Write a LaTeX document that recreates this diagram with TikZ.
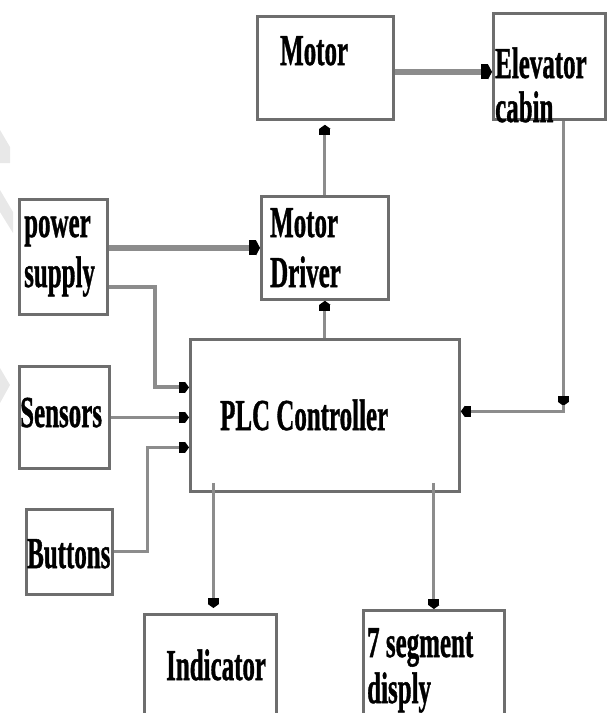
\documentclass[tikz,border=0pt]{standalone}
\usepackage{fontspec}
\setmainfont{Liberation Serif}[BoldFeatures={FakeBold=1.2}]
\usetikzlibrary{arrows.meta,calc}
\definecolor{boxgray}{RGB}{110,110,110}
\definecolor{lgray}{RGB}{140,140,140}
\definecolor{wm}{RGB}{232,232,232}
\newcommand{\tallt}[1]{\scalebox{0.96}[1.7]{#1}}
\begin{document}
\begin{tikzpicture}[x=1pt,y=-1pt,
  box/.style 2 args={draw=boxgray,line width=2.8pt,fill=white,anchor=north west,
    minimum width=#1pt,minimum height=#2pt,inner sep=0pt},
  lbl/.style={anchor=base west,inner sep=0pt,font=\fontsize{26}{26}\selectfont\bfseries},
  conn/.style={draw=lgray,line width=3pt},
  tconn/.style={draw=lgray,line width=6pt},
  tip/.style={-{Square[length=6pt,width=11pt,color=black]Triangle[length=4pt,width=11pt,color=black]}},
  ttip/.style={-{Square[length=7pt,width=15pt,color=black]Triangle[length=4pt,width=15pt,color=black]}}]
\useasboundingbox (0,0) rectangle (611,713);
\clip (0,0) rectangle (611,713);
% faint watermark marks at the left edge
\fill[wm] (0,130) -- (10,147) -- (10,163) -- (0,163) -- cycle;
\fill[wm] (0,190) -- (13,212) -- (13,233) -- (0,212) -- cycle;
\fill[wm] (0,368) -- (10,385) -- (0,403) -- cycle;
% boxes
\node[box={136}{103}] (motor) at (256,15) {};
\node[box={112}{106}] (cabin) at (492,12) {};
\node[box={127}{103}] (driver) at (260,195) {};
\node[box={88}{115}] (power) at (18,198) {};
\node[box={269}{152}] (plc) at (189,338) {};
\node[box={90}{102}] (sensors) at (18,365) {};
\node[box={86}{85}] (buttons) at (25,508) {};
\node[box={132}{110}] (indicator) at (143,613) {};
\node[box={141}{115}] (seg) at (362,609) {};
% connectors
\draw[tconn,ttip] ($(motor.east)+(0,4)$) -- ($(motor.east -| cabin.west)+(0,4)$);
\draw[conn,tip] (driver.north) -- ($(motor.south -| driver.north)+(0,4)$);
\draw[tconn,ttip] (power.east |- driver.west) -- (driver.west);
\draw[conn,line width=4pt,tip] ($(power.east)+(0,30)$) -| ($(plc.west)+(-34,-28)$) -- ($(plc.west)+(0,-28)$);
\draw[conn,tip] (sensors.east) -- (sensors.east -| plc.west);
\draw[conn,tip] (buttons.east) -| ($(plc.west)+(-42,32)$) -- ($(plc.west)+(0,32)$);
\draw[conn,tip] (plc.north) -- (plc.north |- driver.south);
\draw[conn,tip] ($(plc.south -| indicator.north)+(3,-10)$) -- ($(indicator.north)+(3,-5)$);
\draw[conn,tip] ($(plc.south -| seg.north)+(0,-10)$) -- (seg.north);
\draw[conn,tip] ($(cabin.south)+(14,0)$) -- ($(cabin.south)+(14,285)$);
\draw[conn,tip] ($(cabin.south)+(14,284)$) |- ($(plc.east)+(0,-4)$);
% texts
\node[lbl] (tMotor) at (280,65) {\tallt{Motor}};
\node[lbl] (tElev) at (495,78) {\tallt{Elevator}};
\node[lbl] (tCabin) at (495,122) {\tallt{cabin}};
\node[lbl] (tDrvA) at (270,237) {\tallt{Motor}};
\node[lbl] (tDrvB) at (270,287) {\tallt{Driver}};
\node[lbl] (tPowA) at (24,237) {\tallt{power}};
\node[lbl] (tPowB) at (24,287) {\tallt{supply}};
\node[lbl] (tSens) at (20,427) {\tallt{Sensors}};
\node[lbl] (tBtn) at (27,568) {\tallt{Buttons}};
\node[lbl] (tPLC) at (220,430) {\tallt{PLC Controller}};
\node[lbl] (tInd) at (166,680) {\tallt{Indicator}};
\node[lbl] (tSegA) at (367,657) {\tallt{7 segment}};
\node[lbl] (tSegB) at (367,703) {\tallt{disply}};
\end{tikzpicture}
\end{document}
